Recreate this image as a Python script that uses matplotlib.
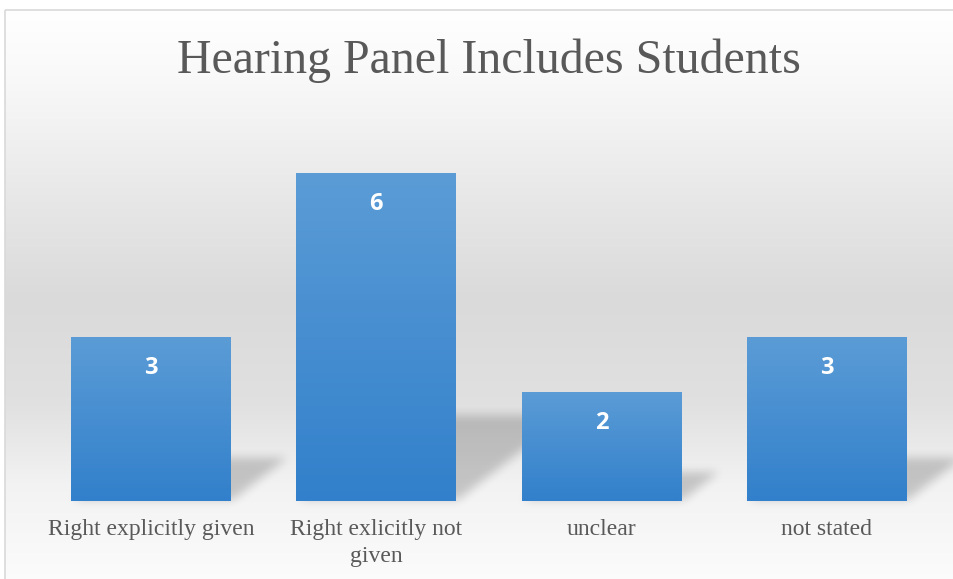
import numpy as np
import matplotlib
matplotlib.use("Agg")
import matplotlib.pyplot as plt
from matplotlib.patches import Rectangle

# chart data
title = "Hearing Panel Includes Students"
categories = ["Right explicitly given", "Right exlicitly not\ngiven", "unclear", "not stated"]
counts = [3, 6, 2, 3]

W, H = 954, 579
fig = plt.figure(figsize=(W / 100, H / 100), dpi=100)

# background gradient of the chart area (white -> grey -> white)
bg = fig.add_axes([0, 0, 1, 1], zorder=0)
bg.axis("off")
yy = np.linspace(0, 1, H)
stops_y = [0.0, 0.12, 0.35, 0.5, 0.68, 0.82, 1.0]
stops_v = [1.0, 0.975, 0.9, 0.855, 0.88, 0.95, 0.99]
grad = np.interp(yy, stops_y, stops_v)[:, None] * np.ones((1, 4))
bg.imshow(np.dstack([grad] * 3), extent=(5, W + 10, H + 10, 10), aspect="auto", zorder=0,
          interpolation="nearest", clip_on=False)
bg.add_patch(Rectangle((5, 10), W + 30, H + 30, fill=False, edgecolor="#d9d9d9",
                       linewidth=1.2, zorder=1))
bg.set_xlim(0, W)
bg.set_ylim(H, 0)

# plot area
ax = fig.add_axes([38.5 / W, 78 / H, 901 / W, 383 / H], zorder=1)
ax.patch.set_alpha(0)
ymax = 7
for s in ax.spines.values():
    s.set_visible(False)
ax.set_yticks([])

# soft perspective shadows behind bars
bw = 0.71
nx, ny = 901, 383
x_ext = (-0.5, len(categories) - 0.5 + 0.12)
gx = np.linspace(x_ext[0], x_ext[1], int(nx * (x_ext[1] - x_ext[0]) / 4))
gy = np.linspace(-0.15, ymax, ny)
X, Y = np.meshgrid(gx, gy)
mask = np.zeros_like(X)
for i, v in enumerate(counts):
    top = 0.26 * v
    sh = 0.316 * Y
    inside = (Y >= 0) & (Y <= top) & (X >= i - bw / 2 + sh) & (X <= i + bw / 2 + sh)
    mask = np.maximum(mask, inside.astype(float))
k = np.ones(9) / 9
for _ in range(3):
    mask = np.apply_along_axis(lambda r: np.convolve(r, k, mode="same"), 1, mask)
    mask = np.apply_along_axis(lambda c: np.convolve(c, k, mode="same"), 0, mask)
shadow = np.zeros(mask.shape + (4,))
shadow[..., 3] = mask * 0.19
ax.imshow(shadow, extent=(x_ext[0], x_ext[1], gy[0], gy[-1]), origin="lower",
          aspect="auto", zorder=1, clip_on=False, interpolation="bilinear")

# bars with vertical blue gradient
bars = ax.bar(range(len(categories)), counts, width=bw, color="none", zorder=2)
top_c = np.array([91, 156, 214]) / 255
bot_c = np.array([50, 128, 203]) / 255
t = np.linspace(0, 1, 100)[:, None]
bar_grad = (bot_c * (1 - t) + top_c * t)[:, None, :]
for b in bars:
    x0, y0 = b.get_x(), b.get_y()
    im = ax.imshow(bar_grad, extent=(x0, x0 + b.get_width(), y0, y0 + b.get_height()),
                   origin="lower", aspect="auto", zorder=2)
    im.set_clip_path(b)

# value labels inside bar tops
for b, v in zip(bars, counts):
    ax.annotate(str(v), (b.get_x() + b.get_width() / 2, b.get_height()),
                xytext=(0, -22.5), textcoords="offset points", ha="center", va="center",
                color="white", fontsize=17, fontweight="bold", family="Open Sans", zorder=3)

ax.set_xticks(range(len(categories)))
ax.set_xticklabels(categories, family="Liberation Serif", fontsize=17, color="#595959",
                   linespacing=1.35)
ax.tick_params(axis="x", length=0, pad=13)
ax.set_ylim(0, ymax)
ax.set_xlim(-0.5, len(categories) - 0.5)

fig.text(489 / W, 1 - 61 / H, title, ha="center", va="center", family="Liberation Serif",
         fontsize=34.5, color="#595959")

fig.savefig("out.png", dpi=100)
